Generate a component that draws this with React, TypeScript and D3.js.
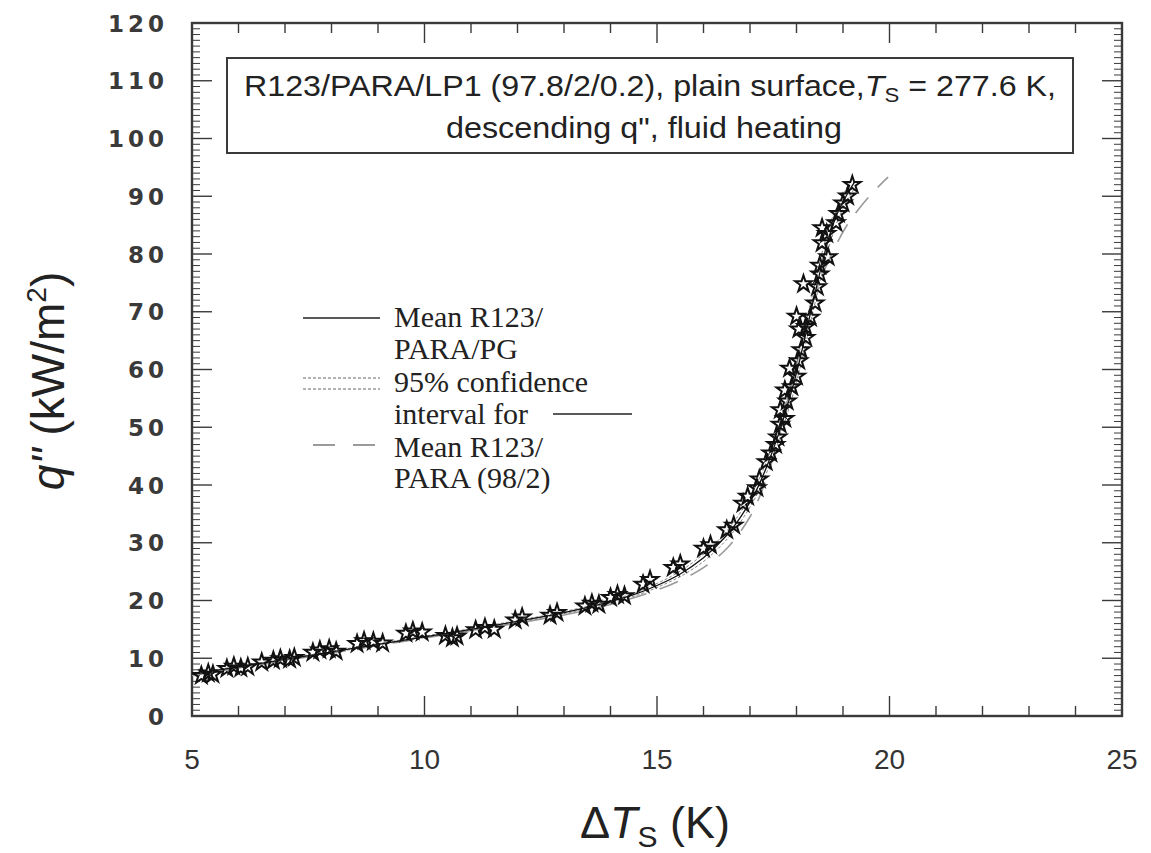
import React from "react";
import * as d3 from "d3";

// ---- data ----
const xTicks = [5, 10, 15, 20, 25];
const yTicks = [0, 10, 20, 30, 40, 50, 60, 70, 80, 90, 100, 110, 120];

const starDT = [
  5.2, 5.35, 5.45,
  5.75, 5.9, 6.05, 6.2,
  6.5, 6.75, 6.9, 7.1, 7.2,
  7.6, 7.75, 7.95, 8.1,
  8.55, 8.7, 8.9, 9.1,
  9.6, 9.75, 9.95,
  10.45, 10.6, 10.7,
  11.1, 11.3, 11.5,
  11.95, 12.1,
  12.7, 12.85,
  13.45, 13.6, 13.75,
  14.0, 14.15, 14.3,
  14.7, 14.85,
  15.35, 15.5,
  16.0, 16.15,
  16.5, 16.65,
  16.85, 16.95,
  17.15, 17.2, 17.35, 17.45, 17.55, 17.6, 17.65, 17.75, 17.65, 17.8, 17.75, 17.9,
  17.85, 18.0, 18.05, 18.1, 18.2, 18.05, 18.2, 18.3, 18.0, 18.4, 18.15, 18.45,
  18.5, 18.5, 18.68, 18.55, 18.65, 18.55, 18.85, 18.9, 19.0, 19.1, 19.2
];
const starQ = [
  7.0, 7.4, 7.2,
  8.2, 8.6, 8.3, 8.5,
  9.3, 9.6, 9.9, 9.8, 10.1,
  11.0, 11.4, 11.6, 11.2,
  12.5, 13.0, 12.9, 12.6,
  14.3, 14.7, 14.5,
  13.9, 13.5, 13.8,
  14.9, 15.3, 15.0,
  16.6, 17.1,
  17.4, 17.9,
  19.0, 19.5, 19.3,
  20.5, 21.0, 20.8,
  22.8, 23.6,
  25.7, 26.3,
  29.0, 29.6,
  32.2, 33.0,
  36.8, 38.0,
  39.5, 41.0, 44.0, 45.5, 47.0, 48.3, 50.5, 51.5, 53.0, 54.5, 56.4, 57.0,
  60.2, 58.8, 61.5, 63.4, 65.5, 67.0, 67.4, 69.0, 69.2, 71.5, 74.8, 74.3,
  76.5, 78.0, 79.5, 81.9, 83.5, 84.5, 85.4, 87.0, 88.8, 90.0, 92.0
];

const meanQ = [7.2, 8.5, 9.8, 11.1, 12.4, 13.7, 15.0, 16.4, 17.9, 19.8, 21.0, 22.6, 24.6, 27.4, 31.3, 34.5, 38.5, 43, 48.5, 55, 61, 68, 75, 81.5, 86.5, 90.5, 92.5];
const meanDT = [5.0, 6, 7, 8, 9, 10, 11, 12, 13, 14, 14.5, 15, 15.5, 16, 16.5, 16.8, 17.1, 17.35, 17.6, 17.85, 18.05, 18.25, 18.45, 18.65, 18.85, 19.1, 19.25];
const ciLeftDT = [4.85, 5.88, 6.9, 7.9, 8.9, 9.9, 10.9, 11.9, 12.9, 13.9, 14.4, 14.9, 15.4, 15.9, 16.42, 16.73, 17.04, 17.3, 17.55, 17.8, 18.0, 18.2, 18.4, 18.59, 18.78, 19.02, 19.15];
const ciRightDT = [5.15, 6.12, 7.1, 8.1, 9.1, 10.1, 11.1, 12.1, 13.1, 14.1, 14.6, 15.1, 15.6, 16.1, 16.58, 16.87, 17.16, 17.4, 17.65, 17.9, 18.1, 18.3, 18.5, 18.71, 18.92, 19.18, 19.35];

const paraDT = [5.0, 6, 7, 8, 9, 10, 11, 12, 13, 14, 15, 15.5, 16, 16.5, 17, 17.35, 17.6, 17.85, 18.1, 18.35, 18.7, 19.05, 19.37, 19.73, 19.97];
const paraQ = [7.0, 8.3, 9.6, 10.9, 12.2, 13.5, 14.8, 16.1, 17.5, 19.3, 21.8, 23.5, 25.7, 29.0, 34.5, 41, 48, 56, 64, 72, 79, 84.5, 88.1, 91.4, 93.3];

const W = 1151, H = 853;
const L = 192, R = 1122, T = 23, B = 716;

export default function App() {
  const x = d3.scaleLinear().domain([5, 25]).range([L, R]);
  const y = d3.scaleLinear().domain([0, 120]).range([B, T]);

  const line = d3.line<[number, number]>()
    .x(d => x(d[0])).y(d => y(d[1]))
    .curve(d3.curveCatmullRom.alpha(0.5));

  const meanPts = meanDT.map((d, i) => [d, meanQ[i]] as [number, number]);
  const ciL = ciLeftDT.map((d, i) => [d, meanQ[i]] as [number, number]);
  const ciR = ciRightDT.map((d, i) => [d, meanQ[i]] as [number, number]);
  const paraPts = paraDT.map((d, i) => [d, paraQ[i]] as [number, number]);

  const star = d3.symbol().type(d3.symbolStar).size(85)()!;

  const xMinor = d3.range(5, 26, 1);
  const yMinor = d3.range(0, 121, 1);
  const axisColor = "#3a3a3a";

  const legendSerif = "'Liberation Serif', 'Times New Roman', serif";
  const sans = "'Liberation Sans', Arial, sans-serif";

  return (
    <div style={{ position: "absolute", left: 0, top: 0 }}>
      <svg width={W} height={H} style={{ display: "block", background: "#fff" }}>
        <defs>
          <clipPath id="plotclip">
            <rect x={L} y={T} width={R - L} height={B - T} />
          </clipPath>
        </defs>

        {/* ticks */}
        <g stroke={axisColor} strokeWidth={1.4}>
          {xMinor.map(v => {
            const major = v % 5 === 0;
            const len = major ? 20 : 10;
            return (
              <g key={"xt" + v}>
                <line x1={x(v)} x2={x(v)} y1={B} y2={B - len} />
                <line x1={x(v)} x2={x(v)} y1={T} y2={T + len} />
              </g>
            );
          })}
          {yMinor.map(v => {
            const major = v % 10 === 0;
            const len = major ? 20 : 8;
            return (
              <g key={"yt" + v}>
                <line x1={L} x2={L + len} y1={y(v)} y2={y(v)} strokeWidth={major ? 1.4 : 1} />
                <line x1={R} x2={R - len} y1={y(v)} y2={y(v)} strokeWidth={major ? 1.4 : 1} />
              </g>
            );
          })}
        </g>

        {/* frame */}
        <rect x={L} y={T} width={R - L} height={B - T} fill="none" stroke={axisColor} strokeWidth={2.4} />

        {/* tick labels */}
        <g fontFamily="'DejaVu Sans', sans-serif" fontWeight="bold" fontSize={23} fill="#3a3a3a" letterSpacing={4}>
          {yTicks.map(v => (
            <text key={"yl" + v} x={168} y={y(v) + 8.5} textAnchor="end">{v}</text>
          ))}
        </g>
        <g fontFamily={sans} fontSize={28} fill="#333">
          {xTicks.map(v => (
            <text key={"xl" + v} x={x(v)} y={769} textAnchor="middle">{v}</text>
          ))}
        </g>

        {/* axis titles */}
        <text x={655} y={838} textAnchor="middle" fontFamily={sans} fontSize={45} fill="#222">
          Δ<tspan fontStyle="italic">T</tspan><tspan fontSize={30} dy={9}>S</tspan><tspan dy={-9}> (K)</tspan>
        </text>
        <text transform="translate(64,381) rotate(-90)" textAnchor="middle" fontFamily={sans} fontSize={46} fill="#222">
          <tspan fontStyle="italic">q"</tspan> (kW/m<tspan fontSize={28} dy={-18}>2</tspan><tspan dy={18}>)</tspan>
        </text>

        {/* title box */}
        <rect x={227} y={58} width={846} height={95} fill="#fff" stroke={axisColor} strokeWidth={2} />
        <text x={650} y={96} textAnchor="middle" fontFamily={sans} fontSize={29} fill="#222" textLength={812} lengthAdjust="spacingAndGlyphs">
          R123/PARA/LP1 (97.8/2/0.2), plain surface,<tspan fontStyle="italic">T</tspan><tspan fontSize={20} dy={6}>S</tspan><tspan dy={-6}> = 277.6 K,</tspan>
        </text>
        <text x={644} y={138} textAnchor="middle" fontFamily={sans} fontSize={29} fill="#222" textLength={396} lengthAdjust="spacingAndGlyphs">
          descending q", fluid heating
        </text>

        {/* curves */}
        <g clipPath="url(#plotclip)" fill="none">
          <path d={line(paraPts)!} stroke="#9a9a9a" strokeWidth={1.6} strokeDasharray="20 14" />
          <path d={line(ciL)!} stroke="#666" strokeWidth={0.8} strokeDasharray="3 2" />
          <path d={line(ciR)!} stroke="#666" strokeWidth={0.8} strokeDasharray="3 2" />
          <path d={line(meanPts)!} stroke="#111" strokeWidth={1.3} />
          {starDT.map((d, i) => (
            <path key={"s" + i} d={star} transform={`translate(${x(d)},${y(starQ[i])})`}
              fill="none" stroke="#111" strokeWidth={2} />
          ))}
        </g>

        {/* legend */}
        <g fontFamily={legendSerif} fontSize={30} fill="#222">
          <line x1={303} x2={380} y1={318} y2={318} stroke="#222" strokeWidth={1.6} />
          <text x={394} y={327}>Mean R123/</text>
          <text x={394} y={359}>PARA/PG</text>
          <line x1={303} x2={380} y1={378} y2={378} stroke="#666" strokeWidth={1} strokeDasharray="3 2" />
          <line x1={303} x2={380} y1={389} y2={389} stroke="#666" strokeWidth={1} strokeDasharray="3 2" />
          <text x={394} y={392}>95% confidence</text>
          <text x={394} y={424}>interval for</text>
          <line x1={553} x2={632} y1={414} y2={414} stroke="#222" strokeWidth={1.6} />
          <line x1={313} x2={380} y1={445} y2={445} stroke="#9a9a9a" strokeWidth={1.8} strokeDasharray="22 18" />
          <text x={394} y={457}>Mean R123/</text>
          <text x={394} y={488}>PARA (98/2)</text>
        </g>
      </svg>
    </div>
  );
}
